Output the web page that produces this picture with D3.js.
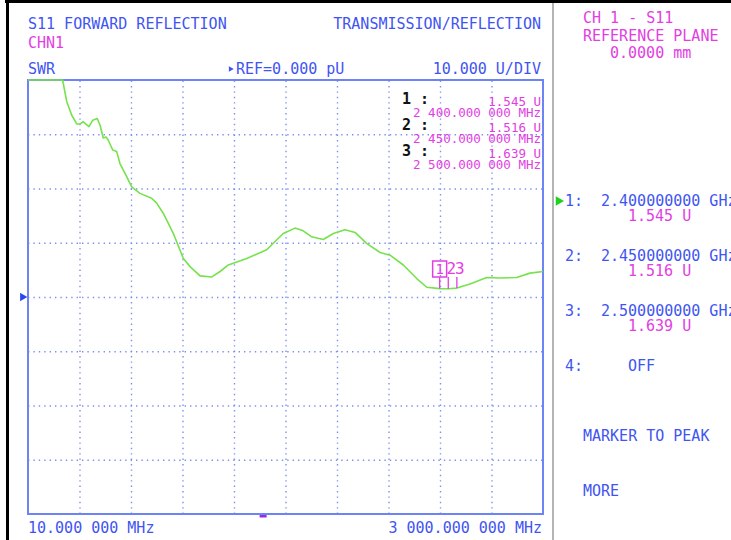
<!DOCTYPE html>
<html>
<head>
<meta charset="utf-8">
<script src="https://cdn.jsdelivr.net/npm/d3@7"></script>
<style>
  body { margin: 0; background: #fff; }
  svg { display: block; }
  text { font-family: "DejaVu Sans Mono", "Liberation Mono", monospace; }
</style>
</head>
<body>
<div id="chart"></div>
<script>
'use strict';

/* Data */

// trace: frequency (MHz) and SWR reading (U), ref level 0 U, 10 U/DIV
var freqMHz = [10, 211, 235, 264, 293, 312, 331, 364, 386, 412, 428, 447, 463, 476, 502, 525, 544, 583, 612, 660,
  728, 757, 796, 854, 912, 951, 1009, 1077, 1125, 1173, 1280, 1396, 1492, 1560, 1608, 1657, 1724, 1783, 1850, 1909,
  1976, 2054, 2112, 2189, 2267, 2325, 2400, 2450, 2500, 2576, 2673, 2750, 2847, 2924, 3000]
var swrU = [40, 40, 36.0, 33.5, 31.9, 31.9, 32.3, 31.4, 32.6, 32.9, 31.7, 29.3, 29.5, 28.9, 27.1, 26.8, 24.6, 22.2, 20.3, 19.1,
  18.2, 17.3, 15.4, 11.7, 7.1, 5.6, 3.9, 3.7, 4.7, 5.9, 7.1, 8.7, 11.7, 12.7, 12.2, 11.1, 10.6, 11.7, 12.4, 11.9,
  9.9, 8.2, 7.7, 5.9, 3.4, 1.8, 1.545, 1.516, 1.639, 2.4, 3.6, 3.5, 3.6, 4.4, 4.7]

var markerIds = ['1', '2', '3']
var markerFreqs = [2400, 2450, 2500]
var markerValues = ['1.545 U', '1.516 U', '1.639 U']
var markerMHzLabels = ['2 400.000 000 MHz', '2 450.000 000 MHz', '2 500.000 000 MHz']
var markerGHzLabels = ['2.400000000 GHz', '2.450000000 GHz', '2.500000000 GHz']

var startLabel = '10.000 000 MHz'
var stopLabel = '3 000.000 000 MHz'
var refLevel = 0
var unitsPerDiv = 10
var xDivs = 10, yDivs = 8
var centerMarkMHz = 1375

var BLUE = '#3f55f2', MAGENTA = '#e23ee2', GREEN = '#76e24c', GRID = '#7d90f2'

var W = 731, H = 540
var plot = {left: 28, top: 80, right: 543, bottom: 514}

var svg = d3.select('#chart').append('svg')
  .attr('width', W)
  .attr('height', H)

// screen frame
svg.append('rect').attr('x', 5).attr('y', 0).attr('width', W - 5).attr('height', 3).attr('fill', '#000')
svg.append('rect').attr('x', 6).attr('y', 0).attr('width', 3).attr('height', H).attr('fill', '#000')
svg.append('rect').attr('x', 552).attr('y', 3).attr('width', 2).attr('height', H).attr('fill', '#b4b4b4')

// Scales
var x = d3.scaleLinear()
  .domain([freqMHz[0], freqMHz[freqMHz.length - 1]])
  .range([plot.left, plot.right])

var y = d3.scaleLinear()
  .domain([refLevel - unitsPerDiv * yDivs / 2, refLevel + unitsPerDiv * yDivs / 2])
  .range([plot.bottom, plot.top])
  .clamp(true)

var xDiv = d3.scaleLinear().domain([0, xDivs]).range([plot.left, plot.right])
var yDiv = d3.scaleLinear().domain([0, yDivs]).range([plot.bottom, plot.top])

var g = svg.append('g')

// Grid
g.append('g')
  .attr('transform', 'translate(0,' + plot.bottom + ')')
  .call(d3.axisBottom(xDiv).tickValues(d3.range(1, xDivs)).tickSize(-(plot.bottom - plot.top)).tickFormat(''))
  .call(function(a){ a.select('.domain').remove() })
g.append('g')
  .attr('transform', 'translate(' + plot.left + ',0)')
  .call(d3.axisLeft(yDiv).tickValues(d3.range(1, yDivs)).tickSize(-(plot.right - plot.left)).tickFormat(''))
  .call(function(a){ a.select('.domain').remove() })

g.selectAll('.tick line')
  .attr('stroke', GRID)
  .attr('stroke-width', 1.4)
  .attr('stroke-dasharray', '1.4,4')

// Border
g.append('rect')
  .attr('x', plot.left).attr('y', plot.top)
  .attr('width', plot.right - plot.left).attr('height', plot.bottom - plot.top)
  .attr('fill', 'none').attr('stroke', '#6c84f6').attr('stroke-width', 2)

// Trace
var line = d3.line()
  .x(function(d, i){ return x(freqMHz[i]) })
  .y(function(d){ return y(d) })
g.append('path')
  .datum(swrU)
  .attr('fill', 'none')
  .attr('stroke', GREEN)
  .attr('stroke-width', 1.6)
  .attr('stroke-linejoin', 'round')
  .attr('d', line)

// Markers on trace
markerFreqs.forEach(function(f, i){
  var mx = x(f), my = y(parseFloat(markerValues[i]))
  g.append('line')
    .attr('x1', mx).attr('x2', mx)
    .attr('y1', 277).attr('y2', my)
    .attr('stroke', MAGENTA).attr('stroke-width', 1.3)
  if (i === 0) {
    g.append('rect')
      .attr('x', mx - 7).attr('y', 261).attr('width', 14).attr('height', 16)
      .attr('fill', 'none').attr('stroke', MAGENTA).attr('stroke-width', 1.5)
    g.append('text')
      .attr('x', mx).attr('y', 274).attr('text-anchor', 'middle')
      .attr('font-size', 14).attr('fill', MAGENTA).text(markerIds[i])
  } else {
    g.append('text')
      .attr('x', mx + 3).attr('y', 274).attr('text-anchor', 'middle')
      .attr('font-size', 16).attr('fill', MAGENTA).text(markerIds[i])
  }
})

// Marker readout block inside the graticule
markerIds.forEach(function(id, i){
  var base = 104 + i * 26
  g.append('text')
    .attr('x', 402).attr('y', base)
    .attr('font-size', 15).attr('font-weight', 'bold').attr('fill', '#111')
    .text(id + ' :')
  g.append('text')
    .attr('x', 541).attr('y', base + 1.5).attr('text-anchor', 'end')
    .attr('font-size', 12.5).attr('fill', MAGENTA)
    .text(markerValues[i])
  g.append('text')
    .attr('x', 541).attr('y', base + 13).attr('text-anchor', 'end')
    .attr('font-size', 12.5).attr('fill', MAGENTA)
    .text(markerMHzLabels[i])
})

// Reference level pointer + center mark
svg.append('path')
  .attr('d', d3.symbol(d3.symbolTriangle, 30)())
  .attr('transform', 'translate(22.5,' + y(refLevel) + ') rotate(90)')
  .attr('fill', '#2a46f2')
svg.append('rect')
  .attr('x', x(centerMarkMHz) - 3.5).attr('y', plot.bottom + 1).attr('width', 7).attr('height', 2.5)
  .attr('fill', '#9a2ae6')

// Header texts
function label(tx, ty, str, color, anchor) {
  return svg.append('text')
    .attr('x', tx).attr('y', ty)
    .attr('font-size', 15)
    .attr('fill', color)
    .attr('text-anchor', anchor || 'start')
    .text(str)
}

label(28, 29, 'S11 FORWARD REFLECTION', BLUE)
label(541, 29, 'TRANSMISSION/REFLECTION', BLUE, 'end')
label(28, 48, 'CHN1', MAGENTA)
label(28, 74, 'SWR', BLUE)
label(236, 74, 'REF=0.000 pU', BLUE)
svg.append('path')
  .attr('d', d3.symbol(d3.symbolTriangle, 14)())
  .attr('transform', 'translate(230.5,69) rotate(90)')
  .attr('fill', BLUE)
label(541, 74, '10.000 U/DIV', BLUE, 'end')

// Frequency span
label(28, 533, startLabel, BLUE)
label(542, 533, stopLabel, BLUE, 'end')

// Right soft-key panel
label(583, 23, 'CH 1 - S11', MAGENTA)
label(583, 41, 'REFERENCE PLANE', MAGENTA)
label(610, 58, '0.0000 mm', MAGENTA)

markerIds.concat(['4']).forEach(function(id, i){
  var base = 206 + i * 55
  label(565, base, id + ':', BLUE)
  if (i < markerGHzLabels.length) {
    label(601, base, markerGHzLabels[i], BLUE)
    label(628, base + 15, markerValues[i], MAGENTA)
  } else {
    label(628, base, 'OFF', BLUE)
  }
})
svg.append('path')
  .attr('d', d3.symbol(d3.symbolTriangle, 40)())
  .attr('transform', 'translate(558.5,201) rotate(90)')
  .attr('fill', '#1fd21f')

label(583, 441, 'MARKER TO PEAK', BLUE)
label(583, 496, 'MORE', BLUE)
</script>
</body>
</html>
